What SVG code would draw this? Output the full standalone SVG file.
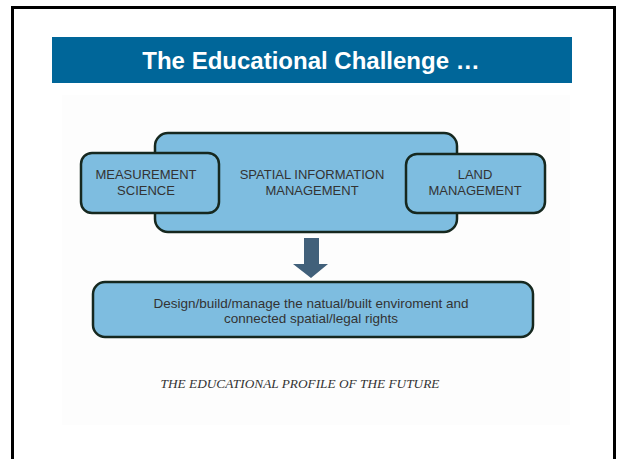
<svg xmlns="http://www.w3.org/2000/svg" width="621" height="459" viewBox="0 0 621 459">
<style>
.box{fill:#7ebde0;stroke:#16281f;stroke-width:2.5}
.t{font-family:"Liberation Sans",Arial,sans-serif;font-size:13px;fill:#333;text-anchor:middle}
</style>
<rect x="0" y="0" width="621" height="459" fill="#fff"/>
<path d="M12.5 459 V7.5 H614.5 V459" fill="none" stroke="#000" stroke-width="3"/>
<g id="header">
<rect x="52" y="37" width="520" height="46" fill="#006699"/>
<text x="311" y="68.5" font-family="Liberation Sans,Arial,sans-serif" font-size="24" font-weight="bold" fill="#fff" text-anchor="middle">The Educational Challenge …</text>
</g>
<rect x="62" y="95" width="508" height="330" fill="#fdfdfd"/>
<g id="sim">
<rect class="box" x="155" y="133" width="302" height="99" rx="13"/>
<text class="t" x="312" y="179">SPATIAL INFORMATION</text>
<text class="t" x="312" y="195">MANAGEMENT</text>
</g>
<g id="measurement">
<rect class="box" x="81" y="153" width="138" height="60" rx="11"/>
<text class="t" x="146" y="179">MEASUREMENT</text>
<text class="t" x="146" y="195">SCIENCE</text>
</g>
<g id="land">
<rect class="box" x="406" y="154" width="139" height="59" rx="11"/>
<text class="t" x="475" y="179">LAND</text>
<text class="t" x="475" y="195">MANAGEMENT</text>
</g>
<g id="connectors">
<path d="M304 238 H319 V264 H328 L311 278 L293 264 H304 Z" fill="#41607a"/>
</g>
<g id="outcome">
<rect class="box" x="93" y="282" width="440" height="55" rx="12"/>
<text class="t" x="311" y="308" style="font-size:13.5px">Design/build/manage the natual/built enviroment and</text>
<text class="t" x="311" y="323" style="font-size:13.5px">connected spatial/legal rights</text>
</g>
<text x="300" y="388" font-family="Liberation Serif,'Times New Roman',serif" font-style="italic" font-size="13.3" fill="#333" text-anchor="middle">THE EDUCATIONAL PROFILE OF THE FUTURE</text>
</svg>
